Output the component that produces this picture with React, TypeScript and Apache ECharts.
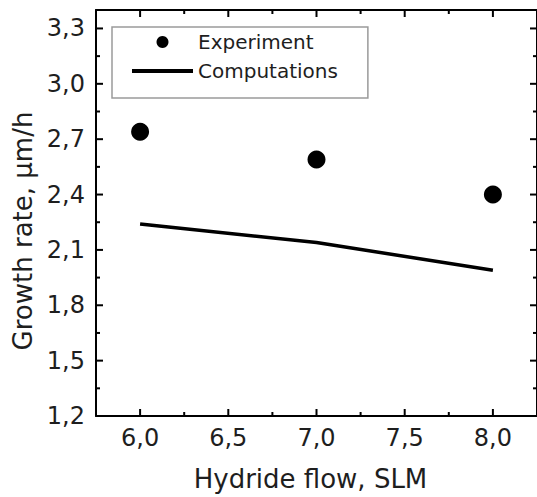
import React, { useEffect, useRef } from "react";
import * as echarts from "echarts";

const flows = [6.0, 7.0, 8.0];
const experiment = [2.74, 2.59, 2.4];
const computations = [2.24, 2.14, 1.99];
const xMajorTicks = [6.0, 6.5, 7.0, 7.5, 8.0];
const xMinorTicks = [6.25, 6.75, 7.25, 7.75];
const yMajorTicks = [1.5, 1.8, 2.1, 2.4, 2.7, 3.0, 3.3];
const yMinorTicks = [1.35, 1.65, 1.95, 2.25, 2.55, 2.85, 3.15];
const seriesNames = ["Experiment", "Computations"];
const xTitle = "Hydride flow, SLM";
const yTitle = "Growth rate, \u03bcm/h";

const FONT = "DejaVu Sans";
const INK = "#1e1e1e";

const fmt = (v: number) => v.toFixed(1).replace(".", ",");

export default function App() {
  const ref = useRef<HTMLDivElement>(null);
  useEffect(() => {
    if (!ref.current) return;
    const chart = echarts.init(ref.current, undefined, { renderer: "svg" });
    const X_MIN = 5.75;
    const X_MAX = 8.25;
    const Y_MIN = 1.2;
    const Y_MAX = 3.4;
    const MAJOR = 7;
    const MINOR = 4;
    const axisLine = { show: true, lineStyle: { color: "#000", width: 2 } };

    chart.setOption({
      animation: false,
      backgroundColor: "#fff",
      textStyle: { fontFamily: FONT },
      grid: { left: 96, top: 10, right: 0, bottom: 79, containLabel: false },
      legend: {
        orient: "vertical",
        left: 112,
        top: 27,
        padding: [5, 30, 17, 20],
        borderColor: "#9a9a9a",
        borderWidth: 1.5,
        itemWidth: 61,
        itemHeight: 12,
        itemGap: 9,
        textStyle: { fontFamily: FONT, fontSize: 20, color: INK, lineHeight: 20 },
        data: [
          { name: seriesNames[0], icon: "circle" },
          { name: seriesNames[1], icon: "path://M0,0H61V4H0Z" },
        ],
      },
      xAxis: [
        {
          type: "value",
          min: X_MIN,
          max: X_MAX,
          position: "bottom",
          axisLine,
          axisTick: { show: false },
          splitLine: { show: false },
          axisLabel: { show: true, customValues: xMajorTicks, formatter: fmt, fontFamily: FONT, fontSize: 24, color: INK, margin: 10 },
          name: xTitle,
          nameLocation: "middle",
          nameGap: 50,
          nameTextStyle: { fontFamily: FONT, fontSize: 26, color: INK, padding: [0, 12, 0, 0] },
        },
        {
          type: "value",
          min: X_MIN,
          max: X_MAX,
          position: "top",
          axisLine,
          axisTick: { show: false },
          splitLine: { show: false },
          axisLabel: { show: false },
        },
      ],
      yAxis: [
        {
          type: "value",
          min: Y_MIN,
          max: Y_MAX,
          interval: 0.3,
          position: "left",
          axisLine,
          axisTick: { show: false },
          splitLine: { show: false },
          axisLabel: { show: true, formatter: fmt, fontFamily: FONT, fontSize: 24, color: INK, margin: 11, showMaxLabel: false },
          name: yTitle,
          nameLocation: "middle",
          nameGap: 58,
          nameTextStyle: { fontFamily: FONT, fontSize: 26, color: INK, padding: [0, 36, 0, 0] },
        },
        {
          type: "value",
          min: Y_MIN,
          max: Y_MAX,
          interval: 0.3,
          position: "right",
          axisLine,
          axisTick: { show: false },
          splitLine: { show: false },
          axisLabel: { show: false },
        },
      ],
      series: [
        {
          name: seriesNames[0],
          type: "scatter",
          xAxisIndex: 0,
          yAxisIndex: 0,
          symbol: "circle",
          symbolSize: 18,
          itemStyle: { color: "#000", opacity: 1 },
          data: flows.map((x, i) => [x, experiment[i]]),
          z: 3,
        },
        {
          name: seriesNames[1],
          type: "line",
          xAxisIndex: 0,
          yAxisIndex: 0,
          symbol: "none",
          lineStyle: { color: "#000", width: 3.5 },
          itemStyle: { color: "#000" },
          data: flows.map((x, i) => [x, computations[i]]),
          z: 2,
        },
      ],
    });

    // inward tick marks, positioned through the chart's own scales
    const px = (p: number[]) => chart.convertToPixel({ gridIndex: 0 }, p) as unknown as number[] | undefined;
    const style = { stroke: "#000", lineWidth: 2 };
    const elements: any[] = [];
    const addX = (v: number, len: number) => {
      const b = px([v, Y_MIN]);
      const t = px([v, Y_MAX]);
      if (b && t) {
        elements.push({ type: "line", silent: true, z: 50, shape: { x1: b[0], y1: b[1], x2: b[0], y2: b[1] - len }, style });
        elements.push({ type: "line", silent: true, z: 50, shape: { x1: t[0], y1: t[1], x2: t[0], y2: t[1] + len }, style });
      }
    };
    const addY = (v: number, len: number) => {
      const l = px([X_MIN, v]);
      const r = px([X_MAX, v]);
      if (l && r) {
        elements.push({ type: "line", silent: true, z: 50, shape: { x1: l[0], y1: l[1], x2: l[0] + len, y2: l[1] }, style });
        elements.push({ type: "line", silent: true, z: 50, shape: { x1: r[0], y1: r[1], x2: r[0] - len, y2: r[1] }, style });
      }
    };
    xMajorTicks.forEach((v) => addX(v, MAJOR));
    xMinorTicks.forEach((v) => addX(v, MINOR));
    yMajorTicks.forEach((v) => addY(v, MAJOR));
    yMinorTicks.forEach((v) => addY(v, MINOR));
    chart.setOption({ graphic: { elements } });

    return () => chart.dispose();
  }, []);
  return <div ref={ref} style={{ width: 537, height: 497, position: "absolute", left: 0, top: 0 }} />;
}
